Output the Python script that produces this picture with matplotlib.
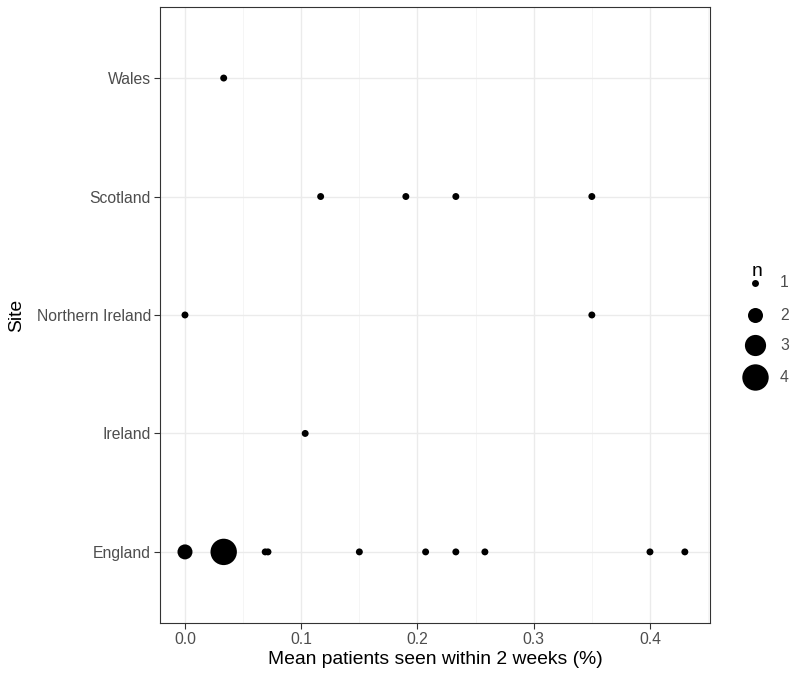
import numpy as np
import matplotlib
matplotlib.use("Agg")
from matplotlib import pyplot as plt
from collections import Counter

plt.rcParams['font.family'] = ['Liberation Sans', 'DejaVu Sans']

sites = ["England", "Ireland", "Northern Ireland", "Scotland", "Wales"]

# mean proportion of patients seen within 2 weeks, one value per centre
england = [0.0, 0.0, 0.0333, 0.0333, 0.0333, 0.0333, 0.0690, 0.0714,
           0.15, 0.207, 0.233, 0.258, 0.40, 0.43]
ireland = [0.1034]
northern_ireland = [0.0, 0.35]
scotland = [0.1167, 0.19, 0.233, 0.35]
wales = [0.0333]

values = [england, ireland, northern_ireland, scotland, wales]
legend_n = [1, 2, 3, 4]

# marker diameter (points) per count, like ggplot's scale_size
def diam(n):
    return 5.0 + (19.0 - 5.0) * (np.sqrt(n) - 1) / (np.sqrt(4) - 1)

fig = plt.figure(figsize=(7.94, 6.77), dpi=100)
ax = fig.add_axes([0.2015, 0.0798, 0.6925, 0.9099])

for i, vals in enumerate(values):
    cnt = Counter(vals)
    xs = np.array(list(cnt.keys()))
    ns = np.array(list(cnt.values()))
    ax.scatter(xs, np.full(len(xs), i + 1), s=diam(ns) ** 2, c="black",
               edgecolors="none", zorder=3)

ax.set_xlim(-0.0215, 0.4515)
ax.set_ylim(0.4, 5.6)
ax.set_xticks([0.0, 0.1, 0.2, 0.3, 0.4])
ax.set_xticklabels(["0.0", "0.1", "0.2", "0.3", "0.4"])
ax.set_xticks(np.arange(0.05, 0.46, 0.1), minor=True)
ax.set_yticks(range(1, len(sites) + 1))
ax.set_yticklabels(sites)

ax.grid(which="major", color="#ebebeb", linewidth=1.0, zorder=0)
ax.grid(which="minor", axis="x", color="#f4f4f4", linewidth=0.6, zorder=0)
ax.set_axisbelow(True)
ax.tick_params(which="major", length=4, width=0.8, color="#333333",
               labelcolor="#4d4d4d", labelsize=11.3, pad=2.5)
ax.tick_params(which="minor", length=0)
for sp in ax.spines.values():
    sp.set_color("#333333")
    sp.set_linewidth(0.8)

ax.set_xlabel("Mean patients seen within 2 weeks (%)", fontsize=13.9)
ax.set_ylabel("Site", fontsize=13.9)
ax.xaxis.set_label_coords(0.5, -0.0455)
ax.yaxis.set_label_coords(-0.245, 0.5)

# size legend
fig.text(752 / 794, 1 - 271 / 677, "n", fontsize=13.9, ha="left", va="center")
leg_y = [283, 315, 345, 377]
for n, y in zip(legend_n, leg_y):
    fig.add_artist(plt.Line2D([755 / 794], [1 - y / 677], marker="o",
                              markersize=diam(n), color="black",
                              markeredgewidth=0, linestyle="none"))
    fig.text(780 / 794, 1 - y / 677, str(n), fontsize=11.3, color="#4d4d4d",
             ha="left", va="center")

fig.savefig("out.png", dpi=100)
